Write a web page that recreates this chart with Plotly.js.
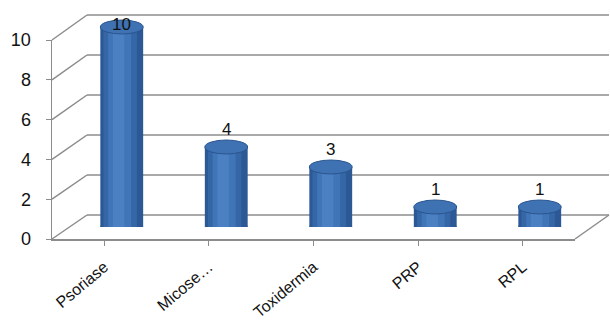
<!DOCTYPE html>
<html>
<head>
<meta charset="utf-8">
<script src="https://cdn.plot.ly/plotly-3.0.1.min.js"></script>
<style>html,body{margin:0;padding:0;background:#fff;}#chart{width:610px;height:323px;}</style>
</head>
<body>
<div id="chart"></div>
<script>
// ---- data ----
const categories = ["Psoriase", "Micose…", "Toxidermia", "PRP", "RPL"];
const values = [10, 4, 3, 1, 1];
const yTicks = [0, 2, 4, 6, 8, 10];

// ---- geometry (pixels) ----
const W = 610, H = 323;
const fx = v => v / W, fy = v => 1 - v / H;
// front plane
const FX0 = 52, FX1 = 575, FY0 = 239, FY10 = 40;
// back plane
const BX0 = 87, BX1 = 609, BY0 = 215, BY10 = 15;
// middle plane (cylinders)
const MX0 = 69.5, MX1 = 592, MY0 = 227, MY10 = 27;
const TOP = 10.5; // extra headroom for the cylinder axis

const gridColor = "#8c8c8c";
const font = "Liberation Sans, Arial, sans-serif";

const cx = categories.map((c, i) => i);
const halfW = 0.205, ellH = 0.35;

const traces = [
  {type: "bar", x: cx, y: values, xaxis: "x3", yaxis: "y3", width: 0.41, offset: -0.205,
   marker: {color: "#2C5896"}, hoverinfo: "none"},
  {type: "bar", x: cx, y: values, xaxis: "x3", yaxis: "y3", width: 0.32, offset: -0.175,
   marker: {color: "#3566A6"}, hoverinfo: "none"},
  {type: "bar", x: cx, y: values, xaxis: "x3", yaxis: "y3", width: 0.22, offset: -0.13,
   marker: {color: "#4075B7"}, hoverinfo: "none"},
  {type: "bar", x: cx, y: values, xaxis: "x3", yaxis: "y3", width: 0.11, offset: -0.085,
   marker: {color: "#4B81C3"}, hoverinfo: "none"},
  {type: "scatter", x: [0], y: [0], xaxis: "x2", yaxis: "y2", mode: "markers",
   marker: {opacity: 0}, hoverinfo: "none"}
];

const shapes = [];
const fyv = v => fy(FY0 + (FY10 - FY0) * v / 10);
const byv = v => fy(BY0 + (BY10 - BY0) * v / 10);
yTicks.forEach(v => {
  // side wall diagonal
  shapes.push({type: "line", xref: "paper", yref: "paper",
    x0: fx(FX0), y0: fyv(v), x1: fx(BX0), y1: byv(v),
    line: {color: gridColor, width: 1.5}, layer: "below"});
  // back wall gridline
  shapes.push({type: "line", xref: "paper", yref: "paper",
    x0: fx(BX0), y0: byv(v), x1: fx(BX1), y1: byv(v),
    line: {color: gridColor, width: 1.5}, layer: "below"});
});
shapes.push({type: "line", xref: "paper", yref: "paper",
  x0: fx(FX1), y0: fyv(0), x1: fx(BX1), y1: byv(0),
  line: {color: gridColor, width: 1.5}, layer: "below"});
values.forEach((v, i) => {
  shapes.push({type: "circle", xref: "x3", yref: "y3",
    x0: i - halfW, x1: i + halfW, y0: -ellH, y1: ellH,
    fillcolor: "#2C5896", line: {width: 0}, layer: "below"});
  shapes.push({type: "circle", xref: "x3", yref: "y3",
    x0: i - halfW, x1: i + halfW, y0: v - ellH, y1: v + ellH,
    fillcolor: "#3F72B3", line: {color: "#2A5590", width: 1}, layer: "above"});
});

const annotations = values.map((v, i) => ({
  xref: "x3", yref: "y3", x: i, y: Math.min(v + 0.85, 10.1),
  text: String(v), showarrow: false,
  font: {family: font, size: 17, color: "#111"}
}));

const layout = {
  width: W, height: H,
  margin: {l: 0, r: 0, t: 0, b: 0},
  paper_bgcolor: "#fff", plot_bgcolor: "rgba(0,0,0,0)",
  showlegend: false, barmode: "overlay",
  // front plane
  xaxis2: {domain: [fx(FX0), fx(FX1)], range: [-0.5, 4.5], anchor: "y2",
    tickvals: cx, ticktext: categories, tickson: "boundaries", ticks: "outside", ticklen: 5,
    tickcolor: gridColor, showline: true, linecolor: gridColor, linewidth: 1.5,
    showgrid: false, zeroline: false, tickangle: -40, ticklabelstandoff: 6,
    tickfont: {family: font, size: 16, color: "#111"}, fixedrange: true},
  yaxis2: {domain: [fy(FY0), fy(FY10)], range: [0, 10], anchor: "x2",
    tickvals: yTicks, ticks: "outside", ticklen: 5, tickcolor: gridColor, ticklabelstandoff: 11,
    showline: true, linecolor: gridColor, linewidth: 1.5, showgrid: false, zeroline: false,
    tickfont: {family: font, size: 18, color: "#111"}, fixedrange: true},
  // middle plane (cylinders)
  xaxis3: {domain: [fx(MX0), fx(MX1)], range: [-0.5, 4.5], anchor: "y3", visible: false, fixedrange: true},
  yaxis3: {domain: [fy(MY0), fy(MY0 + (MY10 - MY0) * TOP / 10)], range: [0, TOP], anchor: "x3",
    visible: false, fixedrange: true},
  shapes: shapes,
  annotations: annotations
};

Plotly.newPlot("chart", traces, layout, {displayModeBar: false, staticPlot: true});
</script>
</body>
</html>
